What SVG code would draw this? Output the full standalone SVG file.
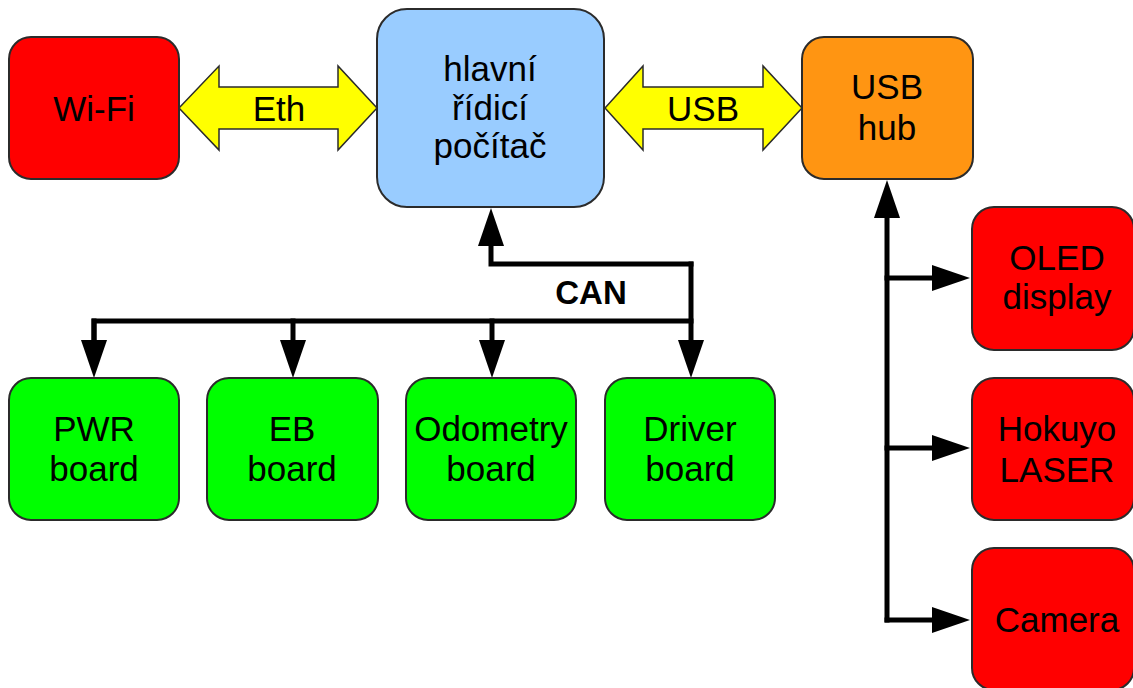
<svg xmlns="http://www.w3.org/2000/svg" width="1133" height="688" viewBox="0 0 1133 688">
  <style>
    .box { stroke: #2b2b2b; stroke-width: 2; }
    .red { fill: #ff0000; }
    .green { fill: #00ff00; }
    .blue { fill: #99ccff; }
    .orange { fill: #ff9512; }
    .bus { fill: #ffff00; stroke: #2b2b2b; stroke-width: 1.5; stroke-linejoin: miter; }
    .lbl { font-family: "Liberation Sans", Arial, sans-serif; font-size: 35px; fill: #000; text-anchor: middle; }
    .can { font-family: "Liberation Sans", Arial, sans-serif; font-size: 33px; font-weight: bold; fill: #000; text-anchor: middle; }
    .wire { fill: none; stroke: #000; stroke-width: 5; stroke-linecap: square; stroke-linejoin: miter; }
  </style>
  <defs>
    <!-- arrowhead drawn forward from the end of the wire -->
    <marker id="head" viewBox="0 0 38 26" refX="0" refY="13" markerWidth="38" markerHeight="26" markerUnits="userSpaceOnUse" orient="auto">
      <path d="M0,0 L38,13 L0,26 Z" fill="#000"/>
    </marker>
  </defs>

  <rect width="1133" height="688" fill="#ffffff"/>

  <!-- connectors -->
  <g id="connectors">
    <!-- Ethernet link -->
    <path class="bus" d="M179,108 L219,66 L219,87 L338,87 L338,66 L377,108 L338,150 L338,129 L219,129 L219,150 Z"/>
    <text class="lbl" x="279" y="121">Eth</text>
    <!-- USB link -->
    <path class="bus" d="M605,108 L643,66 L643,87 L763,87 L763,66 L802,108 L763,150 L763,129 L643,129 L643,150 Z"/>
    <text class="lbl" x="703" y="121">USB</text>

    <!-- CAN bus -->
    <path class="wire" d="M691,264 L491,264 L491,246" marker-end="url(#head)"/>
    <path class="wire" d="M94,340 L94,321 L691,321"/>
    <path class="wire" d="M94,321 L94,340" marker-end="url(#head)"/>
    <path class="wire" d="M293,321 L293,340" marker-end="url(#head)"/>
    <path class="wire" d="M492,321 L492,340" marker-end="url(#head)"/>
    <path class="wire" d="M691,264 L691,340" marker-end="url(#head)"/>
    <text class="can" x="591" y="304">CAN</text>

    <!-- USB tree -->
    <path class="wire" d="M887,620 L887,218" marker-end="url(#head)"/>
    <path class="wire" d="M887,278 L932,278" marker-end="url(#head)"/>
    <path class="wire" d="M887,448 L932,448" marker-end="url(#head)"/>
    <path class="wire" d="M887,620 L932,620" marker-end="url(#head)"/>
  </g>

  <g id="wifi">
    <rect class="box red" x="9" y="37" width="170" height="142" rx="22"/>
    <text class="lbl" x="94" y="121">Wi-Fi</text>
  </g>

  <g id="main-computer">
    <rect class="box blue" x="377" y="9" width="227" height="198" rx="30"/>
    <text class="lbl" x="490" y="81">hlavní</text>
    <text class="lbl" x="490" y="120">řídicí</text>
    <text class="lbl" x="490" y="158">počítač</text>
  </g>

  <g id="usb-hub">
    <rect class="box orange" x="802" y="37" width="171" height="142" rx="22"/>
    <text class="lbl" x="887" y="99">USB</text>
    <text class="lbl" x="887" y="140">hub</text>
  </g>

  <g id="oled">
    <rect class="box red" x="972" y="207" width="162" height="143" rx="22"/>
    <text class="lbl" x="1057" y="270">OLED</text>
    <text class="lbl" x="1057" y="309">display</text>
  </g>

  <g id="hokuyo">
    <rect class="box red" x="972" y="378" width="162" height="142" rx="22"/>
    <text class="lbl" x="1057" y="441">Hokuyo</text>
    <text class="lbl" x="1057" y="482">LASER</text>
  </g>

  <g id="camera">
    <rect class="box red" x="972" y="548" width="162" height="142" rx="22"/>
    <text class="lbl" x="1057" y="632">Camera</text>
  </g>

  <g id="pwr-board">
    <rect class="box green" x="9" y="378" width="170" height="142" rx="22"/>
    <text class="lbl" x="94" y="441">PWR</text>
    <text class="lbl" x="94" y="481">board</text>
  </g>

  <g id="eb-board">
    <rect class="box green" x="207" y="378" width="171" height="142" rx="22"/>
    <text class="lbl" x="292" y="441">EB</text>
    <text class="lbl" x="292" y="481">board</text>
  </g>

  <g id="odometry-board">
    <rect class="box green" x="406" y="378" width="170" height="142" rx="22"/>
    <text class="lbl" x="491" y="441">Odometry</text>
    <text class="lbl" x="491" y="481">board</text>
  </g>

  <g id="driver-board">
    <rect class="box green" x="605" y="378" width="170" height="142" rx="22"/>
    <text class="lbl" x="690" y="441">Driver</text>
    <text class="lbl" x="690" y="481">board</text>
  </g>
</svg>
